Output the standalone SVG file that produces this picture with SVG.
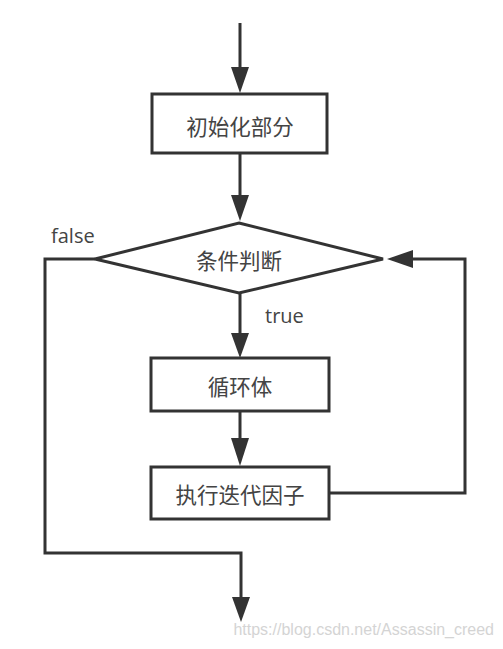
<svg xmlns="http://www.w3.org/2000/svg" width="503" height="649" viewBox="0 0 503 649">
<style>
.box{fill:#fff;stroke:#333;stroke-width:3}
.ln{fill:none;stroke:#333;stroke-width:3}
.ah{fill:#333;stroke:none}
.t{font-family:"Noto Sans CJK SC","Noto Sans",sans-serif;font-size:21.5px;fill:#444;text-anchor:middle;dominant-baseline:central}
.lbl{font-family:"Open Sans","Noto Sans",sans-serif;font-size:20px;fill:#444}
.wm{font-family:"Liberation Sans",Arial,sans-serif;font-size:16px;fill:#d4d4d4}
</style>
<rect width="503" height="649" fill="#fff"/>
<g id="connectors">
<line class="ln" x1="240" y1="23" x2="240" y2="70"/>
<polygon class="ah" points="231,67 249,67 240,93"/>
<line class="ln" x1="240" y1="153" x2="240" y2="198"/>
<polygon class="ah" points="231,195 249,195 240,221"/>
<line class="ln" x1="240" y1="293" x2="240" y2="336"/>
<polygon class="ah" points="231,333 249,333 240,358"/>
<line class="ln" x1="240" y1="411" x2="240" y2="440"/>
<polygon class="ah" points="231,438 249,438 240,466"/>
<polyline class="ln" points="330,493 465,493 465,259 410,259"/>
<polygon class="ah" points="413,250 413,268 387,259"/>
<polyline class="ln" points="95,259 45,259 45,553 241,553 241,600"/>
<polygon class="ah" points="232,597 250,597 241,622"/>
</g>
<g id="n-init">
<rect class="box" x="152" y="94" width="175" height="59"/>
<text class="t" x="240" y="125">初始化部分</text>
</g>
<g id="n-cond">
<polygon class="box" points="239,223 383,259 239,293 95,259"/>
<text class="t" x="239" y="259">条件判断</text>
</g>
<g id="n-body">
<rect class="box" x="151" y="358" width="178" height="53"/>
<text class="t" x="240" y="385">循环体</text>
</g>
<g id="n-iter">
<rect class="box" x="151" y="467" width="178" height="52"/>
<text class="t" x="240" y="493">执行迭代因子</text>
</g>
<text class="lbl" x="51" y="243">false</text>
<text class="lbl" x="265" y="323">true</text>
<text class="wm" x="494" y="635" text-anchor="end">https://blog.csdn.net/Assassin_creed</text>
</svg>
